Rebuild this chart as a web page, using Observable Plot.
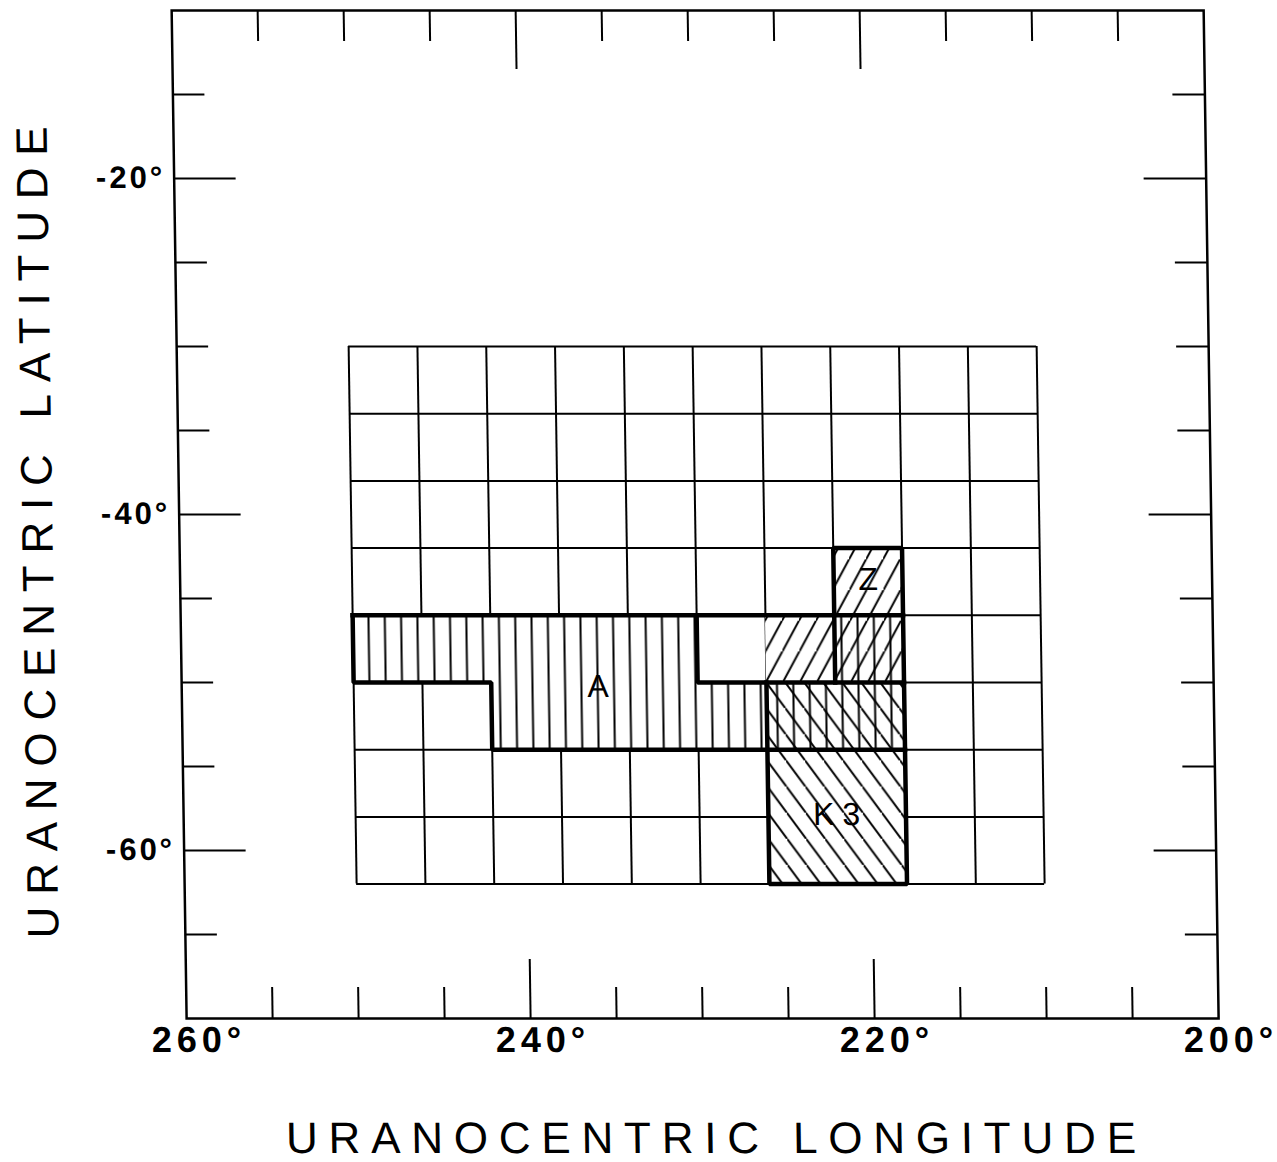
<!DOCTYPE html>
<html>
<head>
<meta charset="utf-8">
<script src="https://cdn.jsdelivr.net/npm/d3@7"></script>
<script src="https://cdn.jsdelivr.net/npm/@observablehq/plot@0.6"></script>
<style>
html, body { margin: 0; padding: 0; background: #fff; }
#chart svg { display: block; transform: skewX(0.85deg); transform-origin: 0 0; }
</style>
</head>
<body>
<div id="chart"></div>
<script>
// ---- data ----
const xTitle = "URANOCENTRIC LONGITUDE";
const yTitle = "URANOCENTRIC LATITUDE";
const lonLabels = [260, 240, 220, 200];
const latLabels = [-20, -40, -60];
const lonTicksMajor = [240, 220];
const lonTicksMinor = [255, 250, 245, 235, 230, 225, 215, 210, 205];
const latTicksMajor = [-20, -40, -60];
const latTicksMinor = [-15, -25, -30, -35, -45, -50, -55, -65];
const gridLon = [250, 246, 242, 238, 234, 230, 226, 222, 218, 214, 210];
const gridLat = [-30, -34, -38, -42, -46, -50, -54, -58, -62];
const verticalHatch = [
  {lon1: 250, lon2: 230, lat1: -46, lat2: -50},
  {lon1: 242, lon2: 218, lat1: -50, lat2: -54},
  {lon1: 222, lon2: 218, lat1: -46, lat2: -50}
];
const forwardHatch = [
  {lon1: 226, lon2: 218, lat1: -46, lat2: -50},
  {lon1: 222, lon2: 218, lat1: -42, lat2: -46}
];
const backHatch = [
  {lon1: 226, lon2: 218, lat1: -50, lat2: -62}
];
const outlines = [
  [[250, -46], [218, -46]],
  [[250, -46], [250, -50], [242, -50], [242, -54], [218, -54]],
  [[230, -46], [230, -50], [218, -50]],
  [[222, -50], [222, -42], [218, -42], [218, -62], [226, -62], [226, -50]]
];
const regionNames = ["A", "Z", "K3"];
const regionLon = [235.8, 220.0, 221.8];
const regionLat = [-50.24, -43.9, -57.86];

// ---- layout ----
const W = 1277, H = 1162;
const mL = 171, mR = 74, mT = 10, mB = 144;
const frameW = W - mL - mR, frameH = H - mT - mB;
const font = "'Liberation Sans', Arial, Helvetica, sans-serif";

const outlinePts = outlines.flatMap((p, i) => p.map(([lon, lat]) => ({path: i, lon, lat})));
const regions = regionNames.map((name, i) => ({name, lon: regionLon[i], lat: regionLat[i]}));
const allHatched = [...verticalHatch, ...forwardHatch, ...backHatch];
const rectOpts = {x1: "lon1", x2: "lon2", y1: "lat1", y2: "lat2"};

const plot = Plot.plot({
  width: W, height: H,
  marginLeft: mL, marginRight: mR, marginTop: mT, marginBottom: mB,
  x: {domain: [260, 200], axis: null},
  y: {domain: [-70, -10], axis: null},
  style: {fontFamily: font, background: "white", color: "black"},
  marks: [
    Plot.ruleX(gridLon, {x: d => d, y1: d3.max(gridLat), y2: d3.min(gridLat), stroke: "black", strokeWidth: 2}),
    Plot.ruleY(gridLat, {y: d => d, x1: d3.max(gridLon), x2: d3.min(gridLon), stroke: "black", strokeWidth: 2}),
    Plot.rect(allHatched, {...rectOpts, fill: "white"}),
    Plot.rect(verticalHatch, {...rectOpts, fill: "url(#vhatch)"}),
    Plot.rect(forwardHatch, {...rectOpts, fill: "url(#fhatch)"}),
    Plot.rect(backHatch, {...rectOpts, fill: "url(#bhatch)"}),
    Plot.line(outlinePts, {x: "lon", y: "lat", z: "path", stroke: "black", strokeWidth: 4.5, strokeLinecap: "square", strokeLinejoin: "miter"}),
    Plot.frame({stroke: "black", strokeWidth: 2.5}),
    // ticks: bottom, top, left, right
    Plot.tickX(lonTicksMinor, {x: d => d, insetTop: frameH - 31, stroke: "black", strokeWidth: 2}),
    Plot.tickX(lonTicksMajor, {x: d => d, insetTop: frameH - 59, stroke: "black", strokeWidth: 2}),
    Plot.tickX(lonTicksMinor, {x: d => d, insetBottom: frameH - 31, stroke: "black", strokeWidth: 2}),
    Plot.tickX(lonTicksMajor, {x: d => d, insetBottom: frameH - 59, stroke: "black", strokeWidth: 2}),
    Plot.tickY(latTicksMinor, {y: d => d, insetRight: frameW - 32, stroke: "black", strokeWidth: 2.2}),
    Plot.tickY(latTicksMajor, {y: d => d, insetRight: frameW - 62, stroke: "black", strokeWidth: 2.2}),
    Plot.tickY(latTicksMinor, {y: d => d, insetLeft: frameW - 32, stroke: "black", strokeWidth: 2.2}),
    Plot.tickY(latTicksMajor, {y: d => d, insetLeft: frameW - 62, stroke: "black", strokeWidth: 2.2}),
    // tick labels
    Plot.text(lonLabels, {x: d => d, frameAnchor: "bottom", dy: 22, dx: 12, textAnchor: "middle", lineAnchor: "middle",
      text: d => `${d}°`, fontSize: 36, fontWeight: "bold", fill: "black"}),
    Plot.text(latLabels, {y: d => d, frameAnchor: "left", dx: -9, textAnchor: "end", lineAnchor: "middle",
      text: d => `-${Math.abs(d)}°`, fontSize: 31, fontWeight: "bold", fill: "black"}),
    // region labels
    Plot.text(regions, {x: "lon", y: "lat", text: "name", fontSize: 32, fill: "black", lineAnchor: "middle"}),
    // axis titles
    Plot.text([xTitle], {frameAnchor: "bottom", dy: 120, dx: 12, textAnchor: "middle", lineAnchor: "middle",
      text: d => d, fontSize: 44, fill: "black"}),
    Plot.text([yTitle], {frameAnchor: "left", dx: -141, dy: 12, rotate: -90, textAnchor: "middle", lineAnchor: "middle",
      text: d => d, fontSize: 44, fill: "black"})
  ]
});

const svg = d3.select(plot);
const xs = plot.scale("x"), ys = plot.scale("y");
const defs = svg.insert("defs", ":first-child");

// vertical hatch
{
  const s = 16.3;
  const p = defs.append("pattern").attr("id", "vhatch").attr("patternUnits", "userSpaceOnUse")
    .attr("width", s).attr("height", 40).attr("x", xs.apply(250) - s / 2).attr("y", 0);
  p.append("line").attr("x1", s / 2).attr("x2", s / 2).attr("y1", -2).attr("y2", 42)
    .attr("stroke", "black").attr("stroke-width", 2);
}
// diagonal hatch: w = horizontal spacing, h = w * tan(angle)
function diag(id, w, angleDeg, forward, x0, y0) {
  const h = w * Math.tan(angleDeg * Math.PI / 180);
  const p = defs.append("pattern").attr("id", id).attr("patternUnits", "userSpaceOnUse")
    .attr("width", w).attr("height", h).attr("x", x0).attr("y", forward ? y0 - h : y0);
  const d = forward
    ? `M0,${h}L${w},0M${-w},${h}L0,0M${w},${2 * h}L${2 * w},${h}`
    : `M0,0L${w},${h}M${-w},0L0,${h}M${w},${-h}L${2 * w},0`;
  p.append("path").attr("d", d).attr("stroke", "black").attr("stroke-width", 2).attr("fill", "none");
}
diag("fhatch", 17, 61, true, xs.apply(226), ys.apply(-50));
diag("bhatch", 19, 54, false, xs.apply(226), ys.apply(-50));

svg.selectAll("text").each(function() {
  const t = this.textContent;
  const s = d3.select(this);
  if (t === xTitle) s.style("letter-spacing", "10.8px");
  else if (t === yTitle) s.style("letter-spacing", "11.8px");
  else if (t === "K3") s.style("letter-spacing", "8px");
  else if (t.endsWith("°")) s.style("letter-spacing", t.startsWith("-") ? "3px" : "5px");
});

document.getElementById("chart").appendChild(plot);
</script>
</body>
</html>
